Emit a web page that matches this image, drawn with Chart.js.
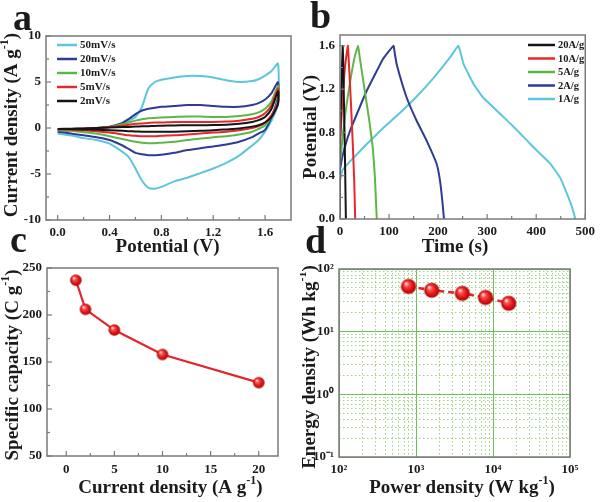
<!DOCTYPE html>
<html><head><meta charset="utf-8">
<script src="https://cdn.jsdelivr.net/npm/chart.js@4.4.1/dist/chart.umd.min.js"></script>
<style>
html,body{margin:0;padding:0;background:#fff;}
#wrap{position:relative;width:600px;height:502px;overflow:hidden;background:#fff;}
#wrap canvas{position:absolute;}
.lt{position:absolute;font:bold 38px 'Liberation Serif','Times New Roman',serif;color:#1b1b1b;line-height:1;}
</style></head><body>
<div id="wrap">
<canvas id="ca" width="300" height="260" style="left:0;top:0"></canvas>
<canvas id="cb" width="300" height="260" style="left:300px;top:0"></canvas>
<canvas id="cc" width="300" height="252" style="left:0;top:250px"></canvas>
<canvas id="cd" width="300" height="252" style="left:300px;top:250px"></canvas>
<div class="lt" style="left:13px;top:-2px">a</div>
<div class="lt" style="left:310px;top:-4px">b</div>
<div class="lt" style="left:10px;top:220px">c</div>
<div class="lt" style="left:305px;top:221px">d</div>
</div>
<script>
// ---------------- DATA ----------------
// Panel a: cyclic voltammetry (potential path: anodic 0->1.7 then cathodic 1.7->0)
const cvPotential = [0,0.1,0.2,0.3,0.4,0.5,0.55,0.6,0.65,0.7,0.75,0.8,0.9,1.0,1.1,1.2,1.3,1.4,1.5,1.55,1.6,1.65,1.7,
                     1.7,1.65,1.6,1.55,1.5,1.4,1.3,1.2,1.1,1.0,0.9,0.8,0.75,0.7,0.65,0.6,0.55,0.5,0.4,0.3,0.2,0.1,0];
const cv50 = [-0.4,-0.3,-0.2,-0.1,0.1,0.5,0.8,1.2,2.3,4.3,5.0,5.25,5.5,5.65,5.65,5.5,5.2,5.0,5.1,5.3,5.7,6.2,7.0,
              2.6,0.8,-0.4,-1.3,-1.9,-3.0,-3.8,-4.4,-4.9,-5.4,-5.8,-6.4,-6.6,-6.5,-5.7,-4.4,-3.2,-2.6,-1.7,-1.3,-1.1,-0.8,-0.6];
const cv20 = [-0.25,-0.2,-0.1,0,0.15,0.55,1.0,1.5,1.9,2.1,2.2,2.3,2.4,2.5,2.5,2.4,2.3,2.3,2.5,2.7,3.1,3.8,5.0,
              3.4,1.2,-0.2,-0.6,-1.0,-1.5,-1.8,-2.0,-2.2,-2.4,-2.7,-2.9,-2.95,-2.95,-2.85,-2.7,-2.3,-1.9,-1.3,-1.0,-0.8,-0.6,-0.4];
const cv10 = [-0.2,-0.15,-0.1,0,0.1,0.4,0.6,0.8,0.95,1.05,1.1,1.15,1.2,1.25,1.25,1.2,1.2,1.3,1.5,1.7,2.1,2.9,4.6,
              3.0,1.3,0.3,-0.1,-0.4,-0.7,-0.9,-1.0,-1.15,-1.3,-1.5,-1.6,-1.65,-1.65,-1.6,-1.5,-1.35,-1.2,-0.9,-0.6,-0.45,-0.3,-0.25];
const cv5  = [-0.15,-0.1,-0.05,0,0.1,0.25,0.35,0.45,0.5,0.55,0.6,0.6,0.65,0.65,0.65,0.65,0.7,0.8,1.0,1.2,1.6,2.5,4.3,
              2.8,1.4,0.6,0.2,0,-0.25,-0.4,-0.5,-0.6,-0.7,-0.8,-0.85,-0.9,-0.9,-0.9,-0.85,-0.8,-0.7,-0.5,-0.35,-0.25,-0.2,-0.15];
const cv2  = [-0.1,-0.08,-0.05,0,0.05,0.1,0.12,0.15,0.18,0.2,0.22,0.25,0.27,0.3,0.3,0.32,0.35,0.45,0.65,0.85,1.2,2.1,4.0,
              2.6,1.2,0.6,0.3,0.15,-0.05,-0.15,-0.25,-0.3,-0.35,-0.4,-0.42,-0.42,-0.42,-0.4,-0.38,-0.35,-0.3,-0.25,-0.2,-0.15,-0.12,-0.1];
const cvLabels = ['50mV/s','20mV/s','10mV/s','5mV/s','2mV/s'];
const aXTicks = [0,0.4,0.8,1.2,1.6];
const aYTicks = [-10,-5,0,5,10];

// Panel b: galvanostatic charge-discharge
const gcd20T = [0,0,1.5,3,5.5,6.5,8,10,11,12];
const gcd20V = [0,0.75,1.0,1.25,1.6,1.45,1.1,0.6,0.3,0];
const gcd10T = [0,0,2,5,10,16,18,22,26,29,31];
const gcd10V = [0,0.65,0.85,1.1,1.4,1.6,1.45,1.1,0.7,0.35,0];
const gcd5T  = [0,0,3,10,20,30,37,40,50,60,67,71,73,75];
const gcd5V  = [0,0.5,0.65,0.95,1.25,1.5,1.6,1.5,1.2,0.9,0.65,0.4,0.2,0];
const gcd2T  = [0,0,5,20,54,88,109,112,116,136,156,177,197,204,209,212];
const gcd2V  = [0,0.45,0.58,0.81,1.18,1.48,1.6,1.52,1.42,1.12,0.91,0.72,0.51,0.35,0.15,0];
const gcd1T  = [0,0,5,20,54,88,122,156,190,224,241,245,252,272,292,327,361,395,429,449,463,473,480];
const gcd1V  = [0,0.35,0.45,0.53,0.69,0.84,0.98,1.13,1.3,1.49,1.6,1.55,1.43,1.25,1.12,0.97,0.82,0.66,0.51,0.38,0.23,0.11,0];
const gcdLabels = ['20A/g','10A/g','5A/g','2A/g','1A/g'];
const bXTicks = [0,100,200,300,400,500];
const bYTicks = [0,0.4,0.8,1.2,1.6];

// Panel c: specific capacity vs current density
const capCurrent = [1,2,5,10,20];
const capValue   = [237,206,184,158,128];
const cXTicks = [0,5,10,15,20];
const cYTicks = [50,100,150,200,250];

// Panel d: Ragone plot
const ragPower  = [800,1600,4000,8000,16000];
const ragEnergy = [52.7,45.8,40.9,35.1,28.4];

// ---------------- STYLE ----------------
const FAM = "'Liberation Serif','Times New Roman',serif";
const TXT = '#1b1b1b';
const cvColors  = ['#5cc6dc','#2e3a96','#5cb846','#e8262c','#141414'];
const gcdColors = ['#141414','#e8262c','#5cb846','#2e3a96','#5cc6dc'];
Chart.defaults.font.family = FAM;
Chart.defaults.font.weight = 'bold';
Chart.defaults.font.size = 13;
Chart.defaults.color = TXT;
Chart.defaults.animation = false;

const DECO = {
  ca:{ticks:true, legend:{x0:57,x1:77,tx:80,y0:45,dy:14,size:11},
      titles:[{parts:[{t:'Potential (V)'}],x:167.5,y:247},
              {parts:[{t:'Current density (A g'},{t:'-1',sup:true},{t:')'}],x:12,y:125,rot:true}]},
  cb:{ticks:true, legend:{x0:228,x1:255,tx:258,y0:45,dy:13.5,size:10.5},
      titles:[{parts:[{t:'Time (s)'}],x:155,y:247},
              {parts:[{t:'Potential (V)'}],x:11,y:127,rot:true}]},
  cc:{ticks:true,
      titles:[{parts:[{t:'Current density (A g'},{t:'-1',sup:true},{t:')'}],x:170.5,y:238},
              {parts:[{t:'Specific capacity (C g'},{t:'-1',sup:true},{t:')'}],x:13,y:115,rot:true}]},
  cd:{ticks:false,
      titles:[{parts:[{t:'Power density (W kg'},{t:'-1',sup:true},{t:')'}],x:162,y:238},
              {parts:[{t:'Energy density (Wh kg'},{t:'-1',sup:true},{t:')'}],x:10,y:117,rot:true}]}
};

function drawRich(ctx, parts, cx, cy, size, rot){
  ctx.save(); ctx.translate(cx,cy); if(rot) ctx.rotate(-Math.PI/2);
  const fM = 'bold '+size+'px '+FAM, fS = 'bold '+Math.round(size*0.62)+'px '+FAM;
  let w=0; parts.forEach(p=>{ctx.font=p.sup?fS:fM; p.w=ctx.measureText(p.t).width; w+=p.w;});
  let x=-w/2; ctx.textBaseline='middle'; ctx.textAlign='left'; ctx.fillStyle=TXT;
  parts.forEach(p=>{ctx.font=p.sup?fS:fM; ctx.fillText(p.t,x,p.sup?-size*0.36:0); x+=p.w;});
  ctx.restore();
}

const deco = {
  id:'deco',
  afterDatasetsDraw(chart){
    const d = DECO[chart.canvas.id]; if(!d) return;
    const ctx = chart.ctx, a = chart.chartArea;
    ctx.save();
    if(d.ticks){
      ctx.strokeStyle='#7a7a7a'; ctx.lineWidth=1.2;
      const drawT=(scale,horiz)=>{
        const vals=scale.ticks.map(t=>t.value), minors=[];
        for(let i=0;i<vals.length-1;i++) minors.push((vals[i]+vals[i+1])/2);
        if(vals.length>1){const st=vals[1]-vals[0];const lo=vals[0]-st/2,hi=vals[vals.length-1]+st/2;
          if(lo>scale.min) minors.push(lo); if(hi<scale.max) minors.push(hi);}
        const seg=(v,len)=>{const p=scale.getPixelForValue(v);ctx.beginPath();
          if(horiz){ctx.moveTo(p,a.bottom);ctx.lineTo(p,a.bottom-len);}else{ctx.moveTo(a.left,p);ctx.lineTo(a.left+len,p);}ctx.stroke();};
        vals.forEach(v=>seg(v,5)); minors.forEach(v=>seg(v,3));
      };
      drawT(chart.scales.x,true); drawT(chart.scales.y,false);
    }
    ctx.strokeStyle='#7a7a7a'; ctx.lineWidth=1.5;
    ctx.strokeRect(a.left,a.top,a.right-a.left,a.bottom-a.top);
    if(d.legend){
      const L=d.legend;
      chart.data.datasets.forEach((ds,i)=>{
        const y=L.y0+i*L.dy;
        ctx.strokeStyle=ds.borderColor; ctx.lineWidth=2.5; ctx.beginPath(); ctx.moveTo(L.x0,y); ctx.lineTo(L.x1,y); ctx.stroke();
        ctx.fillStyle=TXT; ctx.font='bold '+L.size+'px '+FAM; ctx.textBaseline='middle'; ctx.textAlign='left';
        ctx.fillText(ds.label,L.tx,y+0.5);
      });
    }
    d.titles.forEach(t=>drawRich(ctx,t.parts,t.x,t.y,19,t.rot));
    ctx.restore();
  }
};

function linAxis(min,max,ticks,width,height,fmt,pad){
  return {type:'linear',min,max,
    afterFit:s=>{if(width!=null) s.width=width; if(height!=null) s.height=height;},
    afterBuildTicks:s=>{s.ticks=ticks.map(v=>({value:v}));},
    ticks:{callback:fmt,padding:pad,autoSkip:false,maxRotation:0,color:TXT,font:{size:13,weight:'bold'}},
    grid:{display:false,drawTicks:false},border:{display:false}};
}
const SUP={'-':'⁻','0':'⁰','1':'¹','2':'²','3':'³','4':'⁴','5':'⁵'};
const isMajor=v=>{if(v==null) return true; const e=Math.round(Math.log10(v)); return Math.abs(v/Math.pow(10,e)-1)<1e-6;};
function logAxis(min,max,kmin,kmax,width,height,pad){
  return {type:'logarithmic',min,max,
    afterFit:s=>{if(width!=null) s.width=width; if(height!=null) s.height=height;},
    afterBuildTicks:s=>{const t=[];for(let k=kmin;k<kmax;k++)for(let n=1;n<10;n++)t.push({value:n*Math.pow(10,k)});t.push({value:Math.pow(10,kmax)});s.ticks=t;},
    ticks:{autoSkip:false,maxRotation:0,padding:pad,color:TXT,font:{size:13,weight:'bold'},
      callback:v=>{if(!isMajor(v)) return ''; const e=Math.round(Math.log10(v)); return '10'+String(e).split('').map(c=>SUP[c]).join('');}},
    grid:{display:true,drawTicks:false,lineWidth:1,color:c=>isMajor(c.tick&&c.tick.value)?'#6fbf58':'#9fd38a'},
    border:{display:false,dash:c=>isMajor(c.tick&&c.tick.value)?[]:[1.5,2.5]}};
}
function mkSphere(r){
  const s=Math.ceil(r*2)+2,c=document.createElement('canvas');c.width=s;c.height=s;
  const g=c.getContext('2d'),cx=s/2,cy=s/2;
  const grd=g.createRadialGradient(cx-r*0.35,cy-r*0.4,r*0.08,cx,cy,r);
  grd.addColorStop(0,'#ffe6e6');grd.addColorStop(0.25,'#ff5050');grd.addColorStop(0.65,'#e01515');grd.addColorStop(1,'#a50808');
  g.fillStyle=grd;g.beginPath();g.arc(cx,cy,r,0,Math.PI*2);g.fill();
  return c;
}
const zip=(xs,ys)=>xs.map((x,i)=>({x,y:ys[i]}));
const baseOpts=(pad,scales)=>({responsive:false,animation:false,layout:{padding:pad},scales,
  plugins:{legend:{display:false},tooltip:{enabled:false}}});

// Panel a
const cvSeries=[cv50,cv20,cv10,cv5,cv2];
new Chart(document.getElementById('ca'),{type:'scatter',
  data:{datasets:cvSeries.map((arr,i)=>({label:cvLabels[i],data:zip(cvPotential,arr),showLine:true,
    borderColor:cvColors[i],borderWidth:2,pointRadius:0,tension:0.2,order:4-i}))},
  options:baseOpts({left:0,top:36,right:9,bottom:0},{
    x:linAxis(-0.09,1.8,aXTicks,null,40,v=>v.toFixed(1),5),
    y:linAxis(-10,10,aYTicks,46,null,v=>String(v),5)}),
  plugins:[deco]});

// Panel b
const gcdT=[gcd20T,gcd10T,gcd5T,gcd2T,gcd1T], gcdV=[gcd20V,gcd10V,gcd5V,gcd2V,gcd1V];
new Chart(document.getElementById('cb'),{type:'scatter',
  data:{datasets:gcdT.map((t,i)=>({label:gcdLabels[i],data:zip(t,gcdV[i]),showLine:true,
    borderColor:gcdColors[i],borderWidth:2,pointRadius:0,tension:0.1}))},
  options:baseOpts({left:0,top:35,right:14,bottom:0},{
    x:linAxis(0,500,bXTicks,null,41,v=>String(v),5),
    y:linAxis(0,1.7,bYTicks,40,null,v=>v.toFixed(1),5)}),
  plugins:[deco]});

// Panel c
new Chart(document.getElementById('cc'),{type:'scatter',
  data:{datasets:[{label:'capacity',data:zip(capCurrent,capValue),showLine:true,borderColor:'#e2262a',borderWidth:2.2,
    pointStyle:mkSphere(5.8),pointRadius:6,tension:0}]},
  options:baseOpts({left:0,top:18,right:22,bottom:0},{
    x:linAxis(-2,22,cXTicks,null,46,v=>String(v),6),
    y:linAxis(50,250,cYTicks,47,null,v=>String(v),5)}),
  plugins:[deco]});

// Panel d
new Chart(document.getElementById('cd'),{type:'scatter',
  data:{datasets:[{label:'ragone',data:zip(ragPower,ragEnergy),showLine:true,borderColor:'#e2262a',borderWidth:2.5,
    borderDash:[6,4],pointStyle:mkSphere(7.6),pointRadius:8,tension:0}]},
  options:baseOpts({left:0,top:19,right:30,bottom:0},{
    x:logAxis(100,100000,2,5,null,45,5),
    y:logAxis(0.1,100,-1,2,39,null,5)}),
  plugins:[deco]});
</script>
</body></html>
